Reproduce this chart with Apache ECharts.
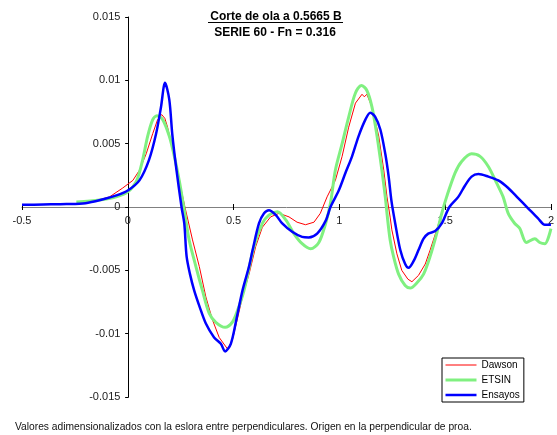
<!DOCTYPE html>
<html>
<head>
<meta charset="utf-8">
<script src="https://cdn.jsdelivr.net/npm/echarts@6/dist/echarts.min.js"></script>
<style>
html,body{margin:0;padding:0;background:#fff;}
#chart{width:557px;height:435px;}
</style>
</head>
<body>
<div id="chart"></div>
<script>
// ---- Data ----
var xTicks = [-0.5, 0, 0.5, 1, 1.5, 2];
var yTicks = [-0.015, -0.01, -0.005, 0, 0.005, 0.01, 0.015];

var dawsonX = [-0.2, -0.15, -0.086, -0.024, 0.024, 0.055, 0.087, 0.118, 0.141, 0.16, 0.175, 0.188, 0.212, 0.243, 0.27, 0.306, 0.338, 0.369, 0.40, 0.432, 0.471, 0.485, 0.494, 0.513, 0.542, 0.573, 0.605, 0.636, 0.675, 0.715, 0.762, 0.80, 0.84, 0.88, 0.91, 0.942, 0.981, 1.013, 1.044, 1.076, 1.107, 1.118, 1.13, 1.154, 1.186, 1.21, 1.225, 1.24, 1.248, 1.272, 1.295, 1.324, 1.343, 1.374, 1.406, 1.429, 1.46, 1.484, 1.495];
var dawsonY = [0.0004, 0.0005, 0.0008, 0.0015, 0.0021, 0.0029, 0.0042, 0.0058, 0.0069, 0.0073, 0.0070, 0.0063, 0.0045, 0.0021, 0.0, -0.0026, -0.0047, -0.0071, -0.0089, -0.0103, -0.0112, -0.0108, -0.0105, -0.0092, -0.0071, -0.0053, -0.0031, -0.0016, -0.00078, -0.0005, -0.00078, -0.0012, -0.0014, -0.0012, -0.0005, 0.0008, 0.0021, 0.004, 0.0063, 0.0082, 0.0089, 0.0087, 0.0089, 0.0079, 0.0056, 0.0029, 0.0008, -0.0008, -0.0018, -0.0037, -0.005, -0.0057, -0.0059, -0.0054, -0.0045, -0.0034, -0.0018, -0.0005, 0.0001];

var etsinX = [-0.243, -0.133, -0.055, 0, 0.04, 0.07, 0.094, 0.118, 0.138, 0.165, 0.196, 0.22, 0.243, 0.259, 0.267, 0.29, 0.322, 0.353, 0.385, 0.416, 0.46, 0.494, 0.518, 0.549, 0.597, 0.636, 0.667, 0.707, 0.746, 0.785, 0.824, 0.864, 0.903, 0.935, 0.958, 0.981, 1.013, 1.044, 1.076, 1.104, 1.13, 1.154, 1.178, 1.201, 1.217, 1.225, 1.24, 1.256, 1.28, 1.311, 1.335, 1.366, 1.398, 1.429, 1.46, 1.484, 1.507, 1.547, 1.578, 1.625, 1.665, 1.704, 1.743, 1.774, 1.798, 1.829, 1.853, 1.884, 1.924, 1.947, 1.971, 2.0];
var etsinY = [0.0004, 0.00055, 0.0008, 0.0012, 0.002, 0.0037, 0.0056, 0.0069, 0.0072, 0.0069, 0.0056, 0.004, 0.0021, 0.00055, -0.00025, -0.0026, -0.0047, -0.0066, -0.0084, -0.0091, -0.0095, -0.0091, -0.0082, -0.0066, -0.0031, -0.0013, -0.00064, -0.00038, -0.001, -0.0021, -0.0029, -0.0033, -0.0028, -0.0013, 0.0003, 0.0029, 0.005, 0.0071, 0.009, 0.0096, 0.0092, 0.0079, 0.0056, 0.0029, 0.0008, -0.0005, -0.0026, -0.0039, -0.0053, -0.0062, -0.0064, -0.006, -0.0053, -0.0039, -0.0021, -0.0005, 0.0008, 0.0027, 0.0036, 0.0042, 0.004, 0.0032, 0.0019, 0.0008, -0.0005, -0.0013, -0.0017, -0.0028, -0.0025, -0.0028, -0.0029, -0.0017];

var ensayosX = [-0.5, -0.4, -0.29, -0.2, -0.13, -0.05, 0, 0.055, 0.10, 0.134, 0.157, 0.176, 0.196, 0.21, 0.228, 0.254, 0.267, 0.278, 0.294, 0.314, 0.34, 0.369, 0.408, 0.44, 0.46, 0.487, 0.513, 0.542, 0.573, 0.59, 0.62, 0.644, 0.667, 0.70, 0.73, 0.777, 0.824, 0.855, 0.895, 0.935, 0.958, 0.997, 1.029, 1.06, 1.091, 1.123, 1.146, 1.17, 1.194, 1.217, 1.233, 1.246, 1.264, 1.288, 1.311, 1.327, 1.35, 1.374, 1.398, 1.42, 1.453, 1.484, 1.52, 1.562, 1.594, 1.625, 1.657, 1.704, 1.751, 1.798, 1.845, 1.892, 1.939, 1.971, 2.0];
var ensayosY = [0.00017, 0.0002, 0.00023, 0.0003, 0.00055, 0.00094, 0.0013, 0.0021, 0.0037, 0.0058, 0.0079, 0.0098, 0.0085, 0.0058, 0.0032, 0.0, -0.0013, -0.0039, -0.0053, -0.0066, -0.0079, -0.0092, -0.0103, -0.0108, -0.0114, -0.0108, -0.0089, -0.0066, -0.0047, -0.0034, -0.0013, -0.0005, -0.00025, -0.00064, -0.0013, -0.00196, -0.00236, -0.0024, -0.0021, -0.0011, 0.0, 0.0013, 0.0027, 0.004, 0.0056, 0.0069, 0.00745, 0.0071, 0.0061, 0.0042, 0.0024, 0.0005, -0.0013, -0.0034, -0.0045, -0.0048, -0.0043, -0.0034, -0.0025, -0.0021, -0.0019, -0.0013, 0.0, 0.0008, 0.0017, 0.0024, 0.0026, 0.0024, 0.0021, 0.0015, 0.0007, -0.0001, -0.0009, -0.0014, -0.0014];

var seriesNames = ['Dawson', 'ETSIN', 'Ensayos'];
var seriesColors = ['#ff0000', '#80f080', '#0000ff'];
var seriesWidths = [1, 3, 2.5];
var titleLine1 = 'Corte de ola a 0.5665 B';
var titleLine2 = 'SERIE 60 - Fn = 0.316';
var footnote = 'Valores adimensionalizados con la eslora entre perpendiculares. Origen en la perpendicular de proa.';

function zip(xs, ys) { return xs.map(function (x, i) { return [x, ys[i]]; }); }
function fmt(v) { return String(+(+v).toFixed(4)); }

var FONT = '"Liberation Sans", Arial, sans-serif';
var GRID = {left: 22, right: 3, top: 17, bottom: 38};
var W = 557, H = 435;
var chart = echarts.init(document.getElementById('chart'), null, {renderer: 'canvas'});

var xMin = xTicks[0], xMax = xTicks[xTicks.length - 1];
var yMin = yTicks[0], yMax = yTicks[yTicks.length - 1];
var plotW = W - GRID.left - GRID.right, plotH = H - GRID.top - GRID.bottom;
// distance from the grid edges to the zero lines (axes cross at the origin)
var zeroFromBottom = (0 - yMin) / (yMax - yMin) * plotH;
var zeroFromTop = plotH - zeroFromBottom;
var zeroFromLeft = (0 - xMin) / (xMax - xMin) * plotW;
var zeroFromRight = plotW - zeroFromLeft;

var common = {type: 'value', splitLine: {show: false}};
chart.setOption({
  animation: false,
  backgroundColor: '#ffffff',
  grid: Object.assign({containLabel: false}, GRID),
  xAxis: [
    Object.assign({}, common, {
      min: xMin, max: xMax, interval: 0.5, position: 'bottom', offset: -zeroFromBottom,
      axisLine: {onZero: false, lineStyle: {color: '#808080', width: 1}},
      axisTick: {show: true, length: 3, lineStyle: {color: '#000'}},
      axisLabel: {margin: 8, fontSize: 11, color: '#222', fontFamily: FONT, formatter: fmt, showMinLabel: true, showMaxLabel: true}
    }),
    Object.assign({}, common, {
      min: xMin, max: xMax, interval: 0.5, position: 'top', offset: -zeroFromTop,
      axisLine: {show: false, onZero: false},
      axisTick: {show: true, length: 3, lineStyle: {color: '#000'}},
      axisLabel: {show: false}
    })
  ],
  yAxis: [
    Object.assign({}, common, {
      min: yMin, max: yMax, interval: 0.005, position: 'left', offset: -zeroFromLeft,
      axisLine: {onZero: false, lineStyle: {color: '#000', width: 1}},
      axisTick: {show: true, length: 3, lineStyle: {color: '#000'}},
      axisLabel: {margin: 8, fontSize: 11, color: '#222', fontFamily: FONT, formatter: fmt}
    }),
    Object.assign({}, common, {
      min: yMin, max: yMax, interval: 0.005, position: 'right', offset: -zeroFromRight,
      axisLine: {show: false, onZero: false},
      axisTick: {show: true, length: 3, lineStyle: {color: '#000'}},
      axisLabel: {show: false}
    })
  ],
  legend: {
    data: seriesNames.map(function (n, i) {
      return {name: n, itemStyle: {opacity: 0}, lineStyle: {width: seriesWidths[i], color: seriesColors[i]}};
    }),
    orient: 'vertical',
    left: 442, top: 358,
    itemWidth: 31, itemHeight: 11, itemGap: 5, itemTextGap: 1,
    padding: [2, 4, 2, 2],
    borderColor: '#000', borderWidth: 1, backgroundColor: '#fff',
    textStyle: {fontSize: 10, color: '#000', fontFamily: FONT}
  },
  graphic: [
    {type: 'text', z: 10, style: {text: titleLine1, x: 276, y: 17, textAlign: 'center', textVerticalAlign: 'middle', font: 'bold 12px ' + FONT, fill: '#000'}},
    {type: 'rect', z: 10, shape: {x: 208, y: 22, width: 135, height: 1}, style: {fill: '#000'}},
    {type: 'text', z: 10, style: {text: titleLine2, x: 275, y: 33, textAlign: 'center', textVerticalAlign: 'middle', font: 'bold 12px ' + FONT, fill: '#000'}},
    {type: 'text', z: 10, style: {text: footnote, x: 15, y: 427, textAlign: 'left', textVerticalAlign: 'middle', font: '10.25px ' + FONT, fill: '#111'}}
  ],
  series: [
    {name: seriesNames[0], type: 'line', xAxisIndex: 0, yAxisIndex: 0, data: zip(dawsonX, dawsonY), symbol: 'none', showSymbol: false, smooth: false, lineStyle: {color: seriesColors[0], width: seriesWidths[0]}, itemStyle: {color: seriesColors[0]}},
    {name: seriesNames[1], type: 'line', xAxisIndex: 0, yAxisIndex: 0, data: zip(etsinX, etsinY), symbol: 'none', showSymbol: false, smooth: 0.3, lineStyle: {color: seriesColors[1], width: seriesWidths[1]}, itemStyle: {color: seriesColors[1]}},
    {name: seriesNames[2], type: 'line', xAxisIndex: 0, yAxisIndex: 0, data: zip(ensayosX, ensayosY), symbol: 'none', showSymbol: false, smooth: 0.3, lineStyle: {color: seriesColors[2], width: seriesWidths[2]}, itemStyle: {color: seriesColors[2]}}
  ]
});
</script>
</body>
</html>
